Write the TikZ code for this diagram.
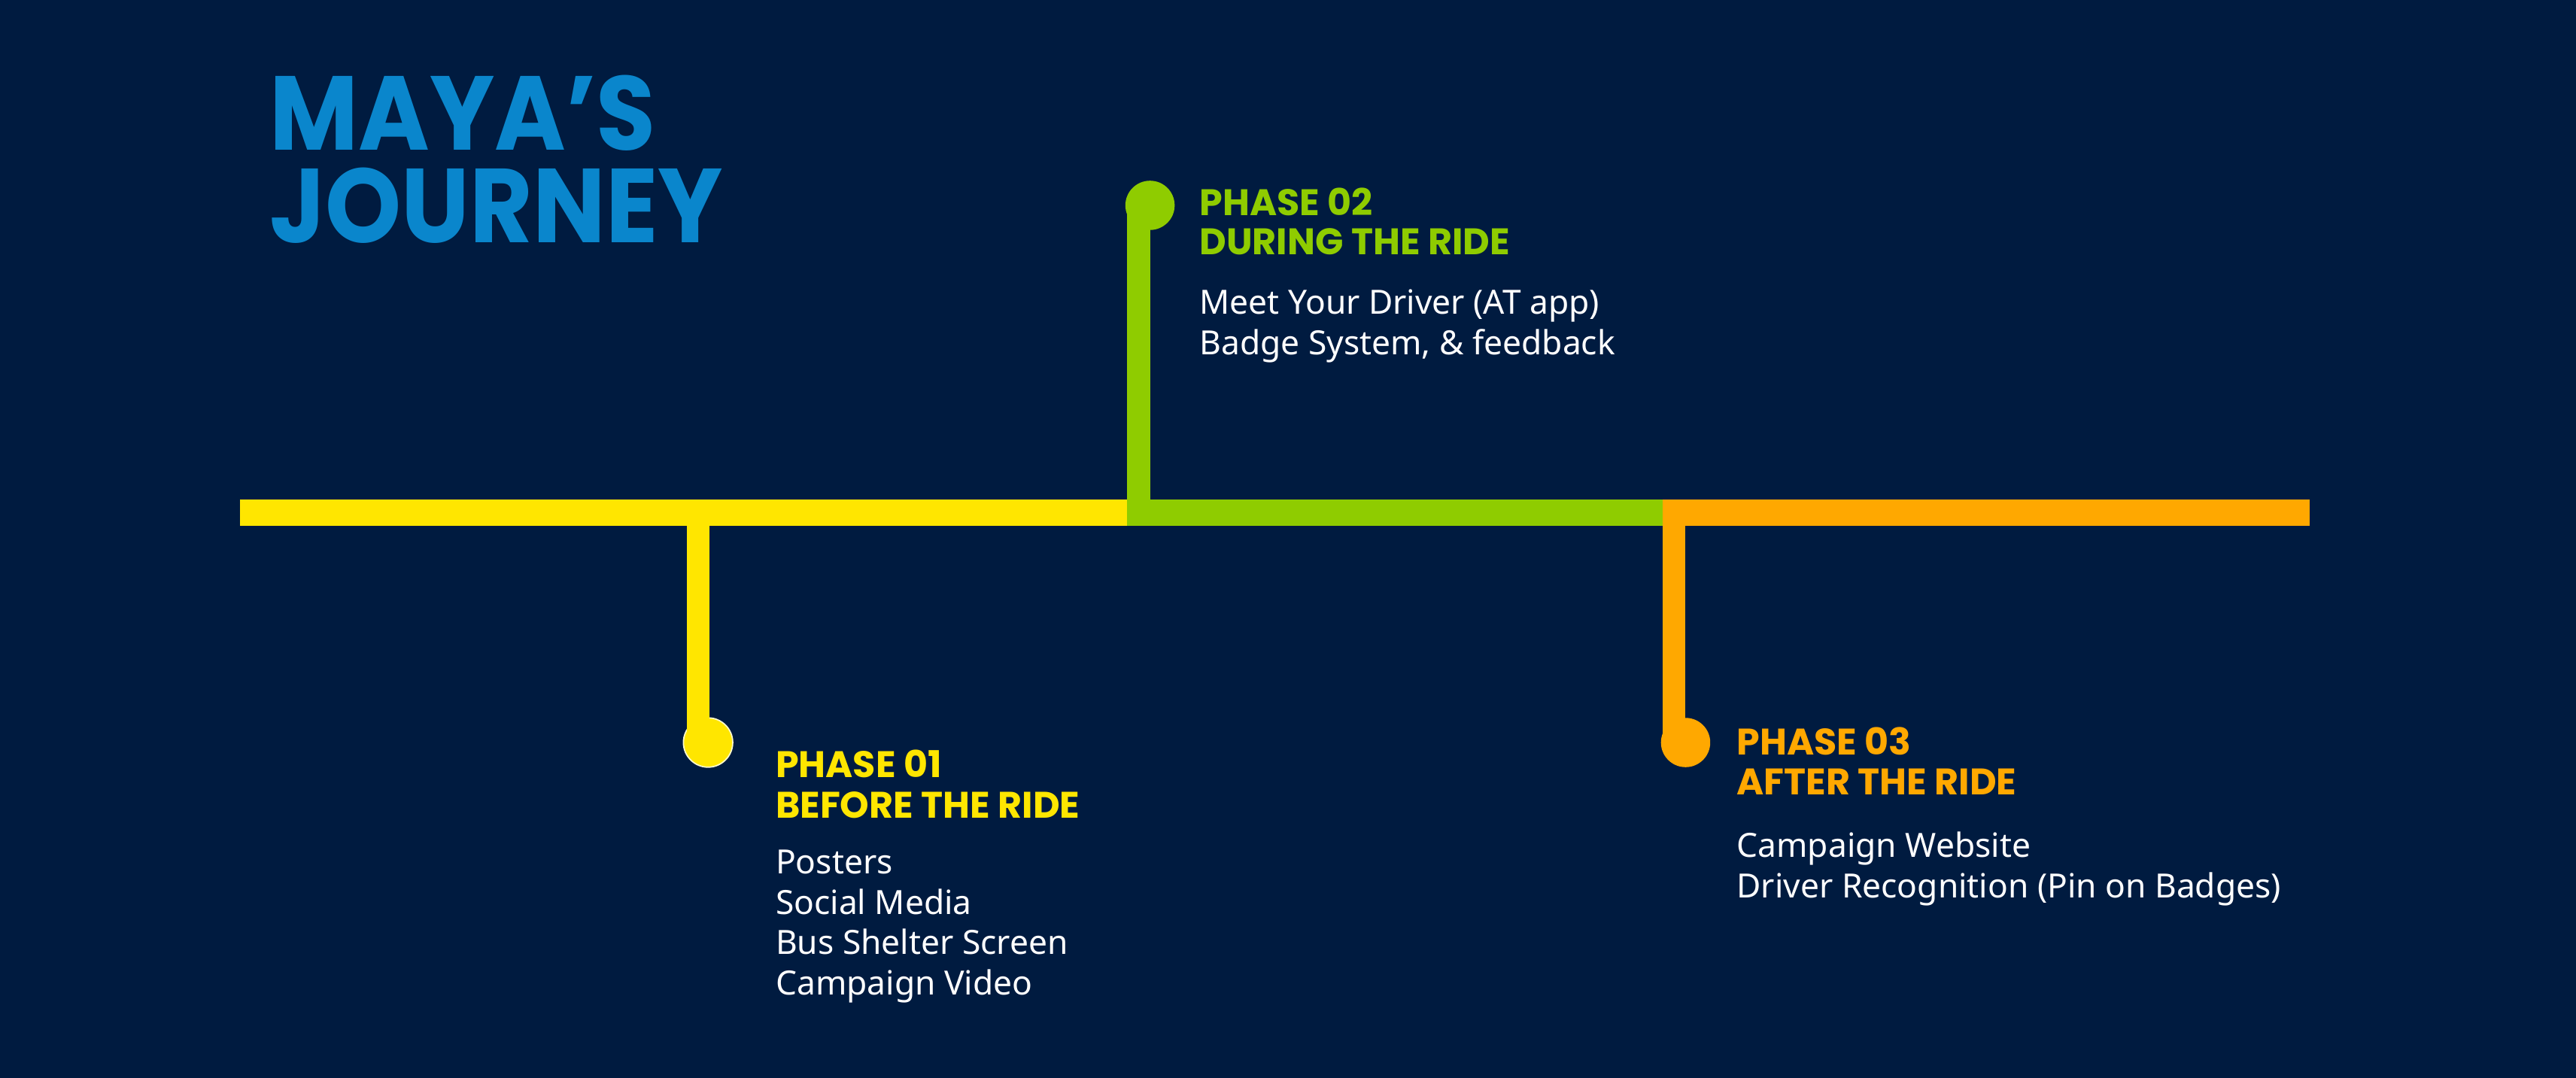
\documentclass[tikz,border=0pt]{standalone}
\usepackage{fontspec}
\usepackage{graphicx}
\setmainfont{Noto Sans}
\newfontfamily\head{Poppins}
\definecolor{bg}{HTML}{001B40}
\definecolor{tblue}{HTML}{0A86CC}
\definecolor{yel}{HTML}{FFE600}
\definecolor{grn}{HTML}{8FCC00}
\definecolor{org}{HTML}{FFA800}
\begin{document}
\begin{tikzpicture}[x=1pt,y=-1pt,
  hd/.style={anchor=west,font=\head\bfseries\fontsize{22.5}{24}\selectfont,inner sep=0pt},
  bd/.style={anchor=north west,align=left,text=white,font=\fontsize{20.3}{24.7}\selectfont,inner sep=0pt},
  seg/.style={line width=16pt},
  stem/.style={line width=14pt}]
\fill[bg] (0,0) rectangle (1568,656);
\useasboundingbox (0,0) rectangle (1568,656);
\node[anchor=west,inner sep=0pt,text=tblue,align=left,font=\head\bfseries\fontsize{64}{56}\selectfont] (title) at (164,97) {\scalebox{0.92}[1]{MAYA’S}\\\scalebox{0.92}[1]{JOURNEY}};
% line
\coordinate (a) at (146,312); \coordinate (b) at (690,312);
\coordinate (c) at (1012,312); \coordinate (d) at (1406,312);
\draw[seg,yel] (a) -- (b);
\draw[seg,grn] (b) -- (c);
\draw[seg,org] (c) -- (d);
% phase 01
\coordinate (s1) at (425,312);
\node[circle,fill=yel,draw=white!80!yel,line width=0.8pt,minimum size=30pt,inner sep=0] (c1) at (431,452) {};
\draw[stem,yel] (s1) -- (425,452);
\node[hd,text=yel] (h1a) at (472,465) {PHASE 01};
\node[hd,text=yel] (h1b) at (472,490) {BEFORE THE RIDE};
\node[bd] (b1) at (472,517) {Posters\\Social Media\\Bus Shelter Screen\\Campaign Video};
% phase 02
\coordinate (s2) at (693,320);
\node[circle,fill=grn,minimum size=30pt,inner sep=0] (c2) at (700,125) {};
\draw[stem,grn] (s2) -- (693,125);
\node[hd,text=grn] (h2a) at (730,123) {PHASE 02};
\node[hd,text=grn] (h2b) at (730,147) {DURING THE RIDE};
\node[bd] (b2) at (730,176) {Meet Your Driver (AT app)\\Badge System, \& feedback};
% phase 03
\coordinate (s3) at (1019,312);
\node[circle,fill=org,minimum size=30pt,inner sep=0] (c3) at (1026,452) {};
\draw[stem,org] (s3) -- (1019,452);
\node[hd,text=org] (h3a) at (1057,451) {PHASE 03};
\node[hd,text=org] (h3b) at (1057,476) {AFTER THE RIDE};
\node[bd] (b3) at (1057,506) {Campaign Website\\Driver Recognition (Pin on Badges)};
\end{tikzpicture}
\end{document}
